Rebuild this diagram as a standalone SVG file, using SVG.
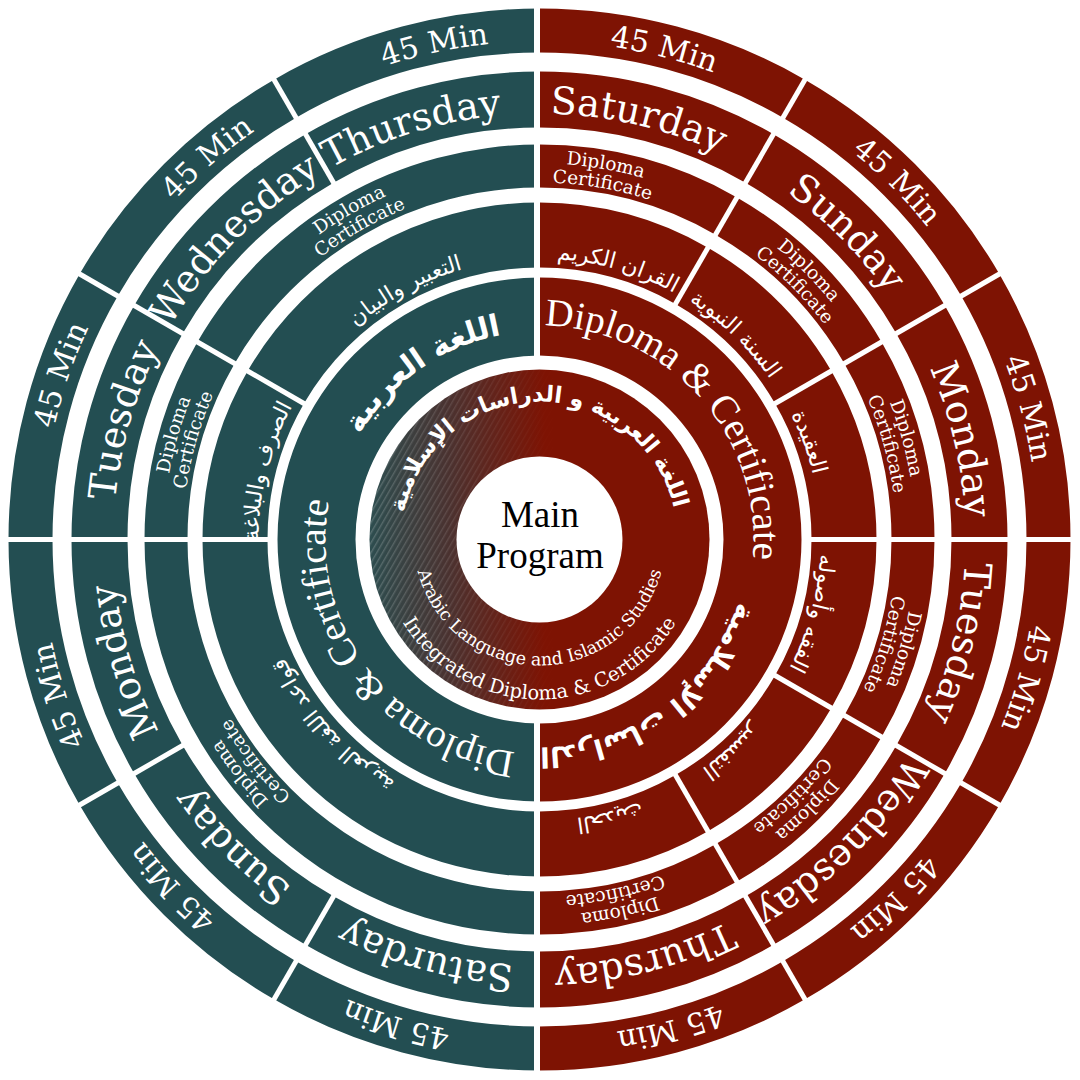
<svg xmlns="http://www.w3.org/2000/svg" width="1080" height="1080" viewBox="0 0 1080 1080">
<defs>
<style>
.tl{fill:#234e52}
.rd{fill:#7e1303}
text{font-family:"DejaVu Serif","Liberation Serif",serif;fill:#fff}
.min{font-size:30px}
.day{font-size:38px}
.dip{font-size:18.5px}
.ar{font-family:"DejaVu Sans","Noto Sans",sans-serif;font-size:22px}
.arb{font-family:"DejaVu Sans","Noto Sans",sans-serif;font-size:30px;font-weight:bold}
.big{font-family:"Liberation Serif",serif;font-size:39px}
.en1{font-size:17.5px}
.en2{font-size:19.5px}
.mp{font-family:"Liberation Serif",serif;font-size:37px;fill:#000}
#dividers line{stroke:#fff;stroke-width:5}
</style>
<path id="so" d="M0,-531A531,531 0 0,1 265.5,-459.86L243.5,-421.75A487,487 0 0,0 0,-487Z"/>
<path id="sd" d="M0,-468A468,468 0 0,1 234,-405.3L206,-356.8A412,412 0 0,0 0,-412Z"/>
<path id="sp30" d="M0,-395A395,395 0 0,1 197.5,-342.08L176,-304.84A352,352 0 0,0 0,-352Z"/>
<path id="sp60" d="M0,-395A395,395 0 0,1 342.08,-197.5L304.84,-176A352,352 0 0,0 0,-352Z"/>
<path id="sp90" d="M0,-395A395,395 0 0,1 395,0L352,0A352,352 0 0,0 0,-352Z"/>
<path id="sc30" d="M0,-337A337,337 0 0,1 168.5,-291.85L136,-235.56A272,272 0 0,0 0,-272Z"/>
<path id="sc60" d="M0,-337A337,337 0 0,1 291.85,-168.5L235.56,-136A272,272 0 0,0 0,-272Z"/>
<path id="sc90" d="M0,-337A337,337 0 0,1 337,0L272,0A272,272 0 0,0 0,-272Z"/>
<path id="sm" d="M0,-262A262,262 0 0,1 0,262L0,184A184,184 0 0,0 0,-184Z"/>
<path id="p498" d="M0,498A498,498 0 1,1 0,-498A498,498 0 1,1 0,498"/>
<path id="p426" d="M0,426A426,426 0 1,1 0,-426A426,426 0 1,1 0,426"/>
<path id="p376" d="M0,376A376,376 0 1,1 0,-376A376,376 0 1,1 0,376"/>
<path id="p357" d="M0,357A357,357 0 1,1 0,-357A357,357 0 1,1 0,357"/>
<path id="p281" d="M0,281A281,281 0 1,1 0,-281A281,281 0 1,1 0,281"/>
<path id="p214" d="M0,214A214,214 0 1,1 0,-214A214,214 0 1,1 0,214"/>
<path id="p208" d="M0,208A208,208 0 1,1 0,-208A208,208 0 1,1 0,208"/>
<path id="p138" d="M0,138A138,138 0 1,1 0,-138A138,138 0 1,1 0,138"/>
<path id="pe1" d="M-126,0A126,126 0 0,0 126,0"/>
<path id="pe2" d="M-160,0A160,160 0 0,0 160,0"/>
<linearGradient id="gr" gradientUnits="userSpaceOnUse" x1="-170" y1="0" x2="5" y2="0">
<stop offset="0" stop-color="#2d4d4f"/>
<stop offset="0.45" stop-color="#4a3230"/>
<stop offset="1" stop-color="#7e1303"/>
</linearGradient>
<linearGradient id="mg" gradientUnits="userSpaceOnUse" x1="-170" y1="0" x2="20" y2="0">
<stop offset="0" stop-color="#fff"/>
<stop offset="1" stop-color="#000"/>
</linearGradient>
<mask id="mk"><rect x="-170" y="-170" width="340" height="340" fill="url(#mg)"/></mask>
<pattern id="st" width="5" height="5" patternUnits="userSpaceOnUse" patternTransform="rotate(30)">
<rect width="1.4" height="5" fill="#fff" fill-opacity="0.2"/>
</pattern>
</defs>
<rect width="1080" height="1080" fill="#fff"/>
<g transform="translate(539.5 539.5)">
<g id="outer-ring">
<g id="o-thu"><use href="#so" class="tl" transform="rotate(330)"/><text class="min" text-anchor="middle"><textPath href="#p498" startOffset="1460.2">45 Min</textPath></text></g>
<g id="o-wed"><use href="#so" class="tl" transform="rotate(300)"/><text class="min" text-anchor="middle"><textPath href="#p498" startOffset="1208.1">45 Min</textPath></text></g>
<g id="o-tue"><use href="#so" class="tl" transform="rotate(270)"/><text class="min" text-anchor="middle"><textPath href="#p498" startOffset="947.4">45 Min</textPath></text></g>
<g id="o-mon"><use href="#so" class="tl" transform="rotate(240)"/><text class="min" text-anchor="middle"><textPath href="#p498" startOffset="625.8">45 Min</textPath></text></g>
<g id="o-sun"><use href="#so" class="tl" transform="rotate(210)"/><text class="min" text-anchor="middle"><textPath href="#p498" startOffset="405.0">45 Min</textPath></text></g>
<g id="o-sat"><use href="#so" class="tl" transform="rotate(180)"/><text class="min" text-anchor="middle"><textPath href="#p498" startOffset="143.4">45 Min</textPath></text></g>
<g id="o-sat2"><use href="#so" class="rd"/><text class="min" text-anchor="middle"><textPath href="#p498" startOffset="1688.8">45 Min</textPath></text></g>
<g id="o-sun2"><use href="#so" class="rd" transform="rotate(30)"/><text class="min" text-anchor="middle"><textPath href="#p498" startOffset="1955.6">45 Min</textPath></text></g>
<g id="o-mon2"><use href="#so" class="rd" transform="rotate(60)"/><text class="min" text-anchor="middle"><textPath href="#p498" startOffset="2216.4">45 Min</textPath></text></g>
<g id="o-tue2"><use href="#so" class="rd" transform="rotate(90)"/><text class="min" text-anchor="middle"><textPath href="#p498" startOffset="2485.8">45 Min</textPath></text></g>
<g id="o-wed2"><use href="#so" class="rd" transform="rotate(120)"/><text class="min" text-anchor="middle"><textPath href="#p498" startOffset="2741.4">45 Min</textPath></text></g>
<g id="o-thu2"><use href="#so" class="rd" transform="rotate(150)"/><text class="min" text-anchor="middle"><textPath href="#p498" startOffset="2998.6">45 Min</textPath></text></g>
</g>
<g id="day-ring">
<g id="d-thu"><use href="#sd" class="tl" transform="rotate(330)"/><text class="day" text-anchor="middle"><textPath href="#p426" startOffset="1209.7">Thursday</textPath></text></g>
<g id="d-wed"><use href="#sd" class="tl" transform="rotate(300)"/><text class="day" text-anchor="middle"><textPath href="#p426" startOffset="1000.0">Wednesday</textPath></text></g>
<g id="d-tue"><use href="#sd" class="tl" transform="rotate(270)"/><text class="day" text-anchor="middle"><textPath href="#p426" startOffset="788.1">Tuesday</textPath></text></g>
<g id="d-mon"><use href="#sd" class="tl" transform="rotate(240)"/><text class="day" text-anchor="middle"><textPath href="#p426" startOffset="547.2">Monday</textPath></text></g>
<g id="d-sun"><use href="#sd" class="tl" transform="rotate(210)"/><text class="day" text-anchor="middle"><textPath href="#p426" startOffset="334.6">Sunday</textPath></text></g>
<g id="d-sat"><use href="#sd" class="tl" transform="rotate(180)"/><text class="day" text-anchor="middle"><textPath href="#p426" startOffset="113.0">Saturday</textPath></text></g>
<g id="d-sat2"><use href="#sd" class="rd"/><text class="day" text-anchor="middle"><textPath href="#p426" startOffset="1436.5">Saturday</textPath></text></g>
<g id="d-sun2"><use href="#sd" class="rd" transform="rotate(30)"/><text class="day" text-anchor="middle"><textPath href="#p426" startOffset="1672.9">Sunday</textPath></text></g>
<g id="d-mon2"><use href="#sd" class="rd" transform="rotate(60)"/><text class="day" text-anchor="middle"><textPath href="#p426" startOffset="1907.9">Monday</textPath></text></g>
<g id="d-tue2"><use href="#sd" class="rd" transform="rotate(90)"/><text class="day" text-anchor="middle"><textPath href="#p426" startOffset="2109.3">Tuesday</textPath></text></g>
<g id="d-wed2"><use href="#sd" class="rd" transform="rotate(120)"/><text class="day" text-anchor="middle"><textPath href="#p426" startOffset="2342.1">Wednesday</textPath></text></g>
<g id="d-thu2"><use href="#sd" class="rd" transform="rotate(150)"/><text class="day" text-anchor="middle"><textPath href="#p426" startOffset="2571.1">Thursday</textPath></text></g>
</g>
<g id="diploma-ring">
<g id="p-1"><use href="#sp60" class="tl" transform="rotate(300)"/><text class="dip" text-anchor="middle"><textPath href="#p376" startOffset="984.4">Diploma</textPath></text><text class="dip" text-anchor="middle"><textPath href="#p357" startOffset="934.6">Certificate</textPath></text></g>
<g id="p-2"><use href="#sp30" class="tl" transform="rotate(270)"/><text class="dip" text-anchor="middle"><textPath href="#p376" startOffset="695.6">Diploma</textPath></text><text class="dip" text-anchor="middle"><textPath href="#p357" startOffset="660.5">Certificate</textPath></text></g>
<g id="p-3"><use href="#sp90" class="tl" transform="rotate(180)"/><text class="dip" text-anchor="middle"><textPath href="#p376" startOffset="341.2">Diploma</textPath></text><text class="dip" text-anchor="middle"><textPath href="#p357" startOffset="324.0">Certificate</textPath></text></g>
<g id="p-4"><use href="#sp30" class="rd"/><text class="dip" text-anchor="middle"><textPath href="#p376" startOffset="1246.9">Diploma</textPath></text><text class="dip" text-anchor="middle"><textPath href="#p357" startOffset="1183.9">Certificate</textPath></text></g>
<g id="p-5"><use href="#sp30" class="rd" transform="rotate(30)"/><text class="dip" text-anchor="middle"><textPath href="#p376" startOffset="1476.5">Diploma</textPath></text><text class="dip" text-anchor="middle"><textPath href="#p357" startOffset="1401.9">Certificate</textPath></text></g>
<g id="p-6"><use href="#sp30" class="rd" transform="rotate(60)"/><text class="dip" text-anchor="middle"><textPath href="#p376" startOffset="1670.1">Diploma</textPath></text><text class="dip" text-anchor="middle"><textPath href="#p357" startOffset="1585.7">Certificate</textPath></text></g>
<g id="p-7"><use href="#sp30" class="rd" transform="rotate(90)"/><text class="dip" text-anchor="middle"><textPath href="#p376" startOffset="1882.1">Diploma</textPath></text><text class="dip" text-anchor="middle"><textPath href="#p357" startOffset="1787.0">Certificate</textPath></text></g>
<g id="p-8"><use href="#sp30" class="rd" transform="rotate(120)"/><text class="dip" text-anchor="middle"><textPath href="#p376" startOffset="2069.1">Diploma</textPath></text><text class="dip" text-anchor="middle"><textPath href="#p357" startOffset="1964.6">Certificate</textPath></text></g>
<g id="p-9"><use href="#sp30" class="rd" transform="rotate(150)"/><text class="dip" text-anchor="middle"><textPath href="#p376" startOffset="2281.8">Diploma</textPath></text><text class="dip" text-anchor="middle"><textPath href="#p357" startOffset="2166.5">Certificate</textPath></text></g>
</g>
<g id="course-ring">
<g id="c-1"><use href="#sc60" class="tl" transform="rotate(300)"/><text class="ar" text-anchor="middle"><textPath href="#p281" startOffset="743.5">التعبير والبيان</textPath></text></g>
<g id="c-2"><use href="#sc30" class="tl" transform="rotate(270)"/><text class="ar" text-anchor="middle"><textPath href="#p281" startOffset="510.1">الصرف والبلاغة</textPath></text></g>
<g id="c-3"><use href="#sc90" class="tl" transform="rotate(180)"/><text class="ar" text-anchor="middle"><textPath href="#p281" startOffset="235.4">قواعد اللغة العربية</textPath></text></g>
<g id="c-4"><use href="#sc30" class="rd"/><text class="ar" text-anchor="middle"><textPath href="#p281" startOffset="961.3">القران الكريم</textPath></text></g>
<g id="c-5"><use href="#sc30" class="rd" transform="rotate(30)"/><text class="ar" text-anchor="middle"><textPath href="#p281" startOffset="1096.6">السنة النبوية</textPath></text></g>
<g id="c-6"><use href="#sc30" class="rd" transform="rotate(60)"/><text class="ar" text-anchor="middle"><textPath href="#p281" startOffset="1226.1">العقيدة</textPath></text></g>
<g id="c-7"><use href="#sc30" class="rd" transform="rotate(90)"/><text class="ar" text-anchor="middle"><textPath href="#p281" startOffset="1397.8">الفقه وأصوله</textPath></text></g>
<g id="c-8"><use href="#sc30" class="rd" transform="rotate(120)"/><text class="ar" text-anchor="middle"><textPath href="#p281" startOffset="1557.6">التفسير</textPath></text></g>
<g id="c-9"><use href="#sc30" class="rd" transform="rotate(150)"/><text class="ar" text-anchor="middle"><textPath href="#p281" startOffset="1694.9">الحديث</textPath></text></g>
</g>
<g id="main-ring">
<g id="m-left"><use href="#sm" class="tl" transform="rotate(180)"/><text class="arb" text-anchor="middle"><textPath href="#p208" startOffset="525.7">اللغة العربية</textPath></text><text class="big" text-anchor="middle"><textPath href="#p214" startOffset="199.8">Diploma &amp; Certificate</textPath></text></g>
<g id="m-right"><use href="#sm" class="rd"/><text class="big" text-anchor="middle"><textPath href="#p214" startOffset="852.7">Diploma &amp; Certificate</textPath></text><text class="arb" style="font-size:28px" text-anchor="middle"><textPath href="#p208" startOffset="1174.4">الدراسات الإسلامية</textPath></text></g>
</g>
<g id="dividers">
<rect x="-5.5" y="-540" width="6" height="1080" fill="#fff"/>
<rect x="-540" y="-2.5" width="270" height="5" fill="#fff"/>
<rect x="268" y="-2.5" width="272" height="5" fill="#fff"/>
<g transform="rotate(30)"><line x1="0" y1="-484" x2="0" y2="-534"/><line x1="0" y1="-409" x2="0" y2="-471"/><line x1="0" y1="-349" x2="0" y2="-398"/><line x1="0" y1="-269" x2="0" y2="-340"/></g>
<g transform="rotate(60)"><line x1="0" y1="-484" x2="0" y2="-534"/><line x1="0" y1="-409" x2="0" y2="-471"/><line x1="0" y1="-349" x2="0" y2="-398"/><line x1="0" y1="-269" x2="0" y2="-340"/></g>
<g transform="rotate(120)"><line x1="0" y1="-484" x2="0" y2="-534"/><line x1="0" y1="-409" x2="0" y2="-471"/><line x1="0" y1="-349" x2="0" y2="-398"/><line x1="0" y1="-269" x2="0" y2="-340"/></g>
<g transform="rotate(150)"><line x1="0" y1="-484" x2="0" y2="-534"/><line x1="0" y1="-409" x2="0" y2="-471"/><line x1="0" y1="-349" x2="0" y2="-398"/><line x1="0" y1="-269" x2="0" y2="-340"/></g>
<g transform="rotate(300)"><line x1="0" y1="-484" x2="0" y2="-534"/><line x1="0" y1="-409" x2="0" y2="-471"/><line x1="0" y1="-349" x2="0" y2="-398"/><line x1="0" y1="-269" x2="0" y2="-340"/></g>
<g transform="rotate(210)"><line x1="0" y1="-484" x2="0" y2="-534"/><line x1="0" y1="-409" x2="0" y2="-471"/></g>
<g transform="rotate(240)"><line x1="0" y1="-484" x2="0" y2="-534"/><line x1="0" y1="-409" x2="0" y2="-471"/></g>
<g transform="rotate(330)"><line x1="0" y1="-484" x2="0" y2="-534"/><line x1="0" y1="-409" x2="0" y2="-471"/></g>
</g>
<g id="center-ring">
<circle r="170" fill="url(#gr)"/>
<circle r="170" fill="url(#st)" mask="url(#mk)"/>
<text class="arb" style="font-size:22.5px" text-anchor="middle"><textPath href="#p138" startOffset="431.1">اللغة العربية و الدراسات الإسلامية</textPath></text>
<text class="en1" text-anchor="middle"><textPath href="#pe1" startOffset="50%">Arabic Language and Islamic Studies</textPath></text>
<text class="en2" text-anchor="middle"><textPath href="#pe2" startOffset="50%">Integrated Diploma &amp; Certificate</textPath></text>
</g>
<g id="main-program">
<circle r="83" fill="#fff"/>
<text class="mp" x="0.5" y="-12.5" text-anchor="middle">Main</text>
<text class="mp" x="0.5" y="28" text-anchor="middle">Program</text>
</g>
</g>
</svg>
